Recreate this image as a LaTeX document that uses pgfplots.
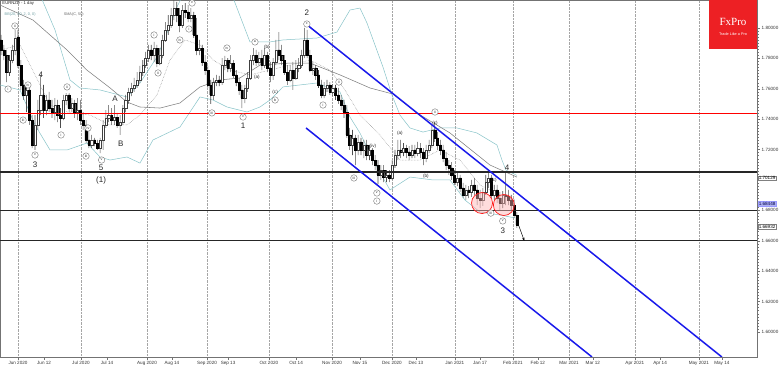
\documentclass[border=0pt]{standalone}
\usepackage{fontspec}
\setmainfont{Liberation Sans}
\newfontfamily\seriffont{Liberation Serif}
\usepackage{pgfplots}
\pgfplotsset{compat=1.18}
\usepackage{pgfplotstable}
\usetikzlibrary{arrows.meta}
\definecolor{bbteal}{RGB}{135,195,200}
\definecolor{fxred}{RGB}{237,32,36}
\definecolor{chanblue}{RGB}{25,25,235}

\pgfplotstableread{
d o h l c
-6 1.7921 1.7954 1.7822 1.7855
-5 1.7855 1.7888 1.7789 1.7822
-4 1.7822 1.7855 1.7644 1.7710
-3 1.7710 1.7822 1.7684 1.7789
-2 1.7789 1.7888 1.7769 1.7855
-1 1.7855 1.7987 1.7822 1.7934
0 1.7941 1.7987 1.7737 1.7756
1 1.7756 1.7789 1.7592 1.7625
2 1.7625 1.7658 1.7526 1.7559
3 1.7559 1.7625 1.7447 1.7592
4 1.7592 1.7605 1.7362 1.7394
5 1.7394 1.7427 1.7210 1.7230
6 1.7230 1.7427 1.7197 1.7362
7 1.7362 1.7526 1.7329 1.7460
8 1.7460 1.7691 1.7427 1.7559
9 1.7559 1.7625 1.7408 1.7460
10 1.7460 1.7559 1.7427 1.7526
11 1.7526 1.7579 1.7447 1.7473
12 1.7473 1.7526 1.7408 1.7447
13 1.7447 1.7539 1.7394 1.7493
14 1.7493 1.7526 1.7381 1.7427
15 1.7427 1.7473 1.7342 1.7408
16 1.7408 1.7559 1.7394 1.7526
17 1.7526 1.7572 1.7493 1.7559
18 1.7559 1.7572 1.7447 1.7473
19 1.7473 1.7539 1.7447 1.7506
20 1.7506 1.7526 1.7408 1.7447
21 1.7447 1.7539 1.7394 1.7460
22 1.7460 1.7526 1.7362 1.7394
23 1.7394 1.7447 1.7329 1.7362
24 1.7362 1.7394 1.7243 1.7263
25 1.7263 1.7329 1.7210 1.7230
26 1.7230 1.7296 1.7210 1.7263
27 1.7263 1.7276 1.7223 1.7243
28 1.7243 1.7263 1.7197 1.7210
29 1.7210 1.7276 1.7177 1.7263
30 1.7263 1.7394 1.7197 1.7362
31 1.7362 1.7460 1.7342 1.7408
32 1.7408 1.7493 1.7381 1.7427
33 1.7427 1.7473 1.7362 1.7394
34 1.7394 1.7493 1.7362 1.7414
35 1.7414 1.7441 1.7342 1.7362
36 1.7362 1.7427 1.7296 1.7381
37 1.7381 1.7493 1.7362 1.7473
38 1.7473 1.7559 1.7447 1.7526
39 1.7526 1.7605 1.7500 1.7579
40 1.7579 1.7638 1.7552 1.7605
41 1.7605 1.7671 1.7579 1.7625
42 1.7625 1.7710 1.7605 1.7658
43 1.7658 1.7750 1.7638 1.7710
44 1.7710 1.7789 1.7684 1.7756
45 1.7756 1.7842 1.7737 1.7802
46 1.7802 1.7888 1.7776 1.7855
47 1.7855 1.7888 1.7789 1.7822
48 1.7822 1.7908 1.7776 1.7868
49 1.7868 1.7888 1.7743 1.7769
50 1.7769 1.7868 1.7756 1.7822
51 1.7822 1.7954 1.7802 1.7921
52 1.7921 1.8039 1.7908 1.7987
53 1.7987 1.8085 1.7954 1.8020
54 1.8020 1.8131 1.8000 1.8085
55 1.8085 1.8184 1.8052 1.8131
56 1.8131 1.8171 1.8039 1.8085
57 1.8085 1.8131 1.7973 1.8020
58 1.8020 1.8151 1.8000 1.8118
59 1.8118 1.8164 1.8066 1.8105
60 1.8105 1.8151 1.8039 1.8066
61 1.8066 1.8131 1.8039 1.8085
62 1.8085 1.8105 1.7934 1.7954
63 1.7954 1.8066 1.7822 1.7855
64 1.7855 1.7921 1.7822 1.7868
65 1.7868 1.7888 1.7750 1.7776
66 1.7776 1.7822 1.7691 1.7723
67 1.7723 1.7750 1.7605 1.7625
68 1.7625 1.7658 1.7500 1.7559
69 1.7559 1.7671 1.7526 1.7644
70 1.7644 1.7691 1.7618 1.7658
71 1.7658 1.7684 1.7618 1.7644
72 1.7644 1.7802 1.7625 1.7756
73 1.7756 1.7816 1.7723 1.7789
74 1.7789 1.7802 1.7710 1.7737
75 1.7737 1.7822 1.7710 1.7769
76 1.7769 1.7789 1.7671 1.7691
77 1.7691 1.7723 1.7618 1.7644
78 1.7644 1.7671 1.7559 1.7592
79 1.7592 1.7625 1.7473 1.7539
80 1.7539 1.7625 1.7506 1.7605
81 1.7605 1.7710 1.7579 1.7671
82 1.7671 1.7822 1.7658 1.7789
83 1.7789 1.7868 1.7756 1.7822
84 1.7822 1.7855 1.7750 1.7776
85 1.7776 1.7842 1.7756 1.7802
86 1.7802 1.7855 1.7723 1.7756
87 1.7756 1.7868 1.7737 1.7822
88 1.7822 1.7842 1.7710 1.7737
89 1.7737 1.7776 1.7644 1.7691
90 1.7691 1.7802 1.7658 1.7776
91 1.7776 1.7921 1.7756 1.7855
92 1.7855 1.7973 1.7789 1.7822
93 1.7822 1.7888 1.7756 1.7789
94 1.7789 1.7822 1.7691 1.7710
95 1.7710 1.7756 1.7625 1.7658
96 1.7658 1.7756 1.7644 1.7723
97 1.7723 1.7776 1.7592 1.7671
98 1.7671 1.7789 1.7658 1.7737
99 1.7737 1.7802 1.7710 1.7756
100 1.7756 1.7855 1.7737 1.7822
101 1.7822 1.8000 1.7802 1.7921
102 1.7921 1.7987 1.7802 1.7822
103 1.7822 1.7855 1.7710 1.7723
104 1.7723 1.7776 1.7691 1.7737
105 1.7737 1.7756 1.7658 1.7691
106 1.7691 1.7723 1.7605 1.7625
107 1.7625 1.7658 1.7539 1.7559
108 1.7559 1.7644 1.7539 1.7605
109 1.7605 1.7658 1.7579 1.7625
110 1.7625 1.7644 1.7559 1.7579
111 1.7579 1.7631 1.7552 1.7605
112 1.7605 1.7625 1.7526 1.7559
113 1.7559 1.7605 1.7500 1.7526
114 1.7526 1.7559 1.7460 1.7493
115 1.7493 1.7526 1.7408 1.7447
116 1.7447 1.7493 1.7276 1.7296
117 1.7296 1.7342 1.7197 1.7230
118 1.7230 1.7329 1.7164 1.7276
119 1.7276 1.7296 1.7098 1.7197
120 1.7197 1.7296 1.7164 1.7250
121 1.7250 1.7276 1.7164 1.7197
122 1.7197 1.7263 1.7144 1.7230
123 1.7230 1.7263 1.7131 1.7164
124 1.7164 1.7230 1.7131 1.7197
125 1.7197 1.7210 1.7098 1.7131
126 1.7131 1.7164 1.7065 1.7098
127 1.7098 1.7131 1.6973 1.7033
128 1.7033 1.7098 1.7000 1.7065
129 1.7065 1.7098 1.6986 1.7019
130 1.7019 1.7065 1.6986 1.7033
131 1.7033 1.7065 1.6986 1.7013
132 1.7013 1.7131 1.7000 1.7098
133 1.7098 1.7197 1.7079 1.7164
134 1.7164 1.7263 1.7131 1.7197
135 1.7197 1.7263 1.7144 1.7184
136 1.7184 1.7243 1.7157 1.7210
137 1.7210 1.7230 1.7144 1.7184
138 1.7184 1.7223 1.7131 1.7164
139 1.7164 1.7230 1.7144 1.7197
140 1.7197 1.7230 1.7144 1.7177
141 1.7177 1.7250 1.7157 1.7210
142 1.7210 1.7243 1.7144 1.7184
143 1.7184 1.7210 1.7098 1.7144
144 1.7144 1.7230 1.7118 1.7197
145 1.7197 1.7263 1.7177 1.7230
146 1.7230 1.7362 1.7210 1.7329
147 1.7329 1.7381 1.7250 1.7276
148 1.7276 1.7315 1.7197 1.7230
149 1.7230 1.7263 1.7164 1.7197
150 1.7197 1.7230 1.7118 1.7144
151 1.7144 1.7184 1.7065 1.7098
152 1.7098 1.7131 1.7033 1.7079
153 1.7079 1.7118 1.7000 1.7033
154 1.7033 1.7065 1.6967 1.6986
155 1.6986 1.7052 1.6960 1.7013
156 1.7013 1.7033 1.6921 1.6947
157 1.6947 1.6980 1.6881 1.6901
158 1.6901 1.6967 1.6868 1.6934
159 1.6934 1.6960 1.6881 1.6921
160 1.6921 1.7000 1.6888 1.6967
161 1.6967 1.7013 1.6901 1.6934
162 1.6934 1.6967 1.6835 1.6881
163 1.6881 1.6934 1.6815 1.6868
164 1.6868 1.6947 1.6829 1.6921
165 1.6921 1.7033 1.6901 1.6986
166 1.6986 1.7052 1.6947 1.7013
167 1.7013 1.7033 1.6881 1.6901
168 1.6901 1.6967 1.6868 1.6934
169 1.6934 1.6967 1.6848 1.6881
170 1.6881 1.6921 1.6802 1.6848
171 1.6848 1.6927 1.6815 1.6901
172 1.6901 1.7052 1.6835 1.6894
173 1.6894 1.6934 1.6835 1.6868
174 1.6868 1.6901 1.6802 1.6835
175 1.6835 1.6868 1.6750 1.6769
176 1.6769 1.6789 1.6684 1.6704
}\candles

\pgfplotsset{
  frame/.style={at={(0,0)}, anchor=south west, scale only axis,
    width=757pt, height=357pt,
    xmin=-6.35, xmax=260.7, ymin=1.5835, ymax=1.8184, clip=true},
  overlay/.style={frame, hide axis},
}

\begin{document}
\begin{tikzpicture}[
  wl/.style={circle, draw=black!55, fill=white, inner sep=0pt, minimum size=6.5pt,
    font=\fontsize{3.6}{4}\selectfont, text=black!80},
  pl/.style={font=\fontsize{4.6}{5}\selectfont, text=black!85, inner sep=0pt},
  big/.style={font=\fontsize{8}{9}\selectfont, text=black!85, inner sep=0pt}]
\useasboundingbox (0,-9pt) rectangle (782pt,357pt);
% ---------- axis A: frame, ticks, grid, indicators
\begin{axis}[frame,
  axis line style={black!55, line width=0.4pt},
  tick align=outside,
  major tick length=3pt, minor tick length=1.5pt,
  tick style={black!55, line width=0.3pt},
  xtick pos=bottom,
  xtick={0,9.2,22.2,31.4,45.5,54.3,66.7,74.1,88.5,98.1,110.8,120.6,131.9,140.4,154.1,163,174.6,183.4,194.4,202.8,217.6,226.5,240.2,248.3},
  xticklabels={Jun 2020,Jun 12,Jul 2020,Jul 14,Aug 2020,Aug 14,Sep 2020,Sep 13,Oct 2020,Oct 14,Nov 2020,Nov 15,Dec 2020,Dec 13,Jan 2021,Jan 17,Feb 2021,Feb 12,Mar 2021,Mar 12,Apr 2021,Apr 14,May 2021,May 14},
  x tick label style={font=\fontsize{4.6}{5}\selectfont, text=black!80, inner sep=0.8pt},
  extra x ticks={0,22.2,45.5,66.7,88.5,110.8,131.9,154.1,174.6,194.4,217.6,240.2},
  extra x tick labels={},
  extra x tick style={grid=major, major grid style={densely dotted, black!35, line width=0.4pt}},
  ytick pos=right, yticklabel pos=right,
  ytick={1.60,1.62,1.64,1.66,1.68,1.70,1.72,1.74,1.76,1.78,1.80},
  yticklabels={1.60000,1.62000,1.64000,1.66000,1.68000,,1.72000,1.74000,1.76000,1.78000,1.80000},
  minor y tick num=9,
  y tick label style={font=\fontsize{4.6}{5}\selectfont, text=black!80, inner sep=1.5pt},
]
\addplot[bbteal, line width=0.5pt] coordinates {(7.05,1.8250) (13.05,1.7987) (18.34,1.7658) (21.87,1.7605) (28.92,1.7592) (38.45,1.7546) (43.03,1.7638) (49.03,1.7809) (52.56,1.7967) (56.08,1.8138) (58.2,1.8217)};
\addplot[bbteal, line width=0.5pt] coordinates {(75.49,1.8217) (81.83,1.7908) (88.89,1.7908) (93.47,1.7921) (105.5,1.7934) (112.52,1.7973) (117.11,1.8118) (120.63,1.8131) (123.1,1.8033) (128.75,1.7743) (131.92,1.7559) (134.74,1.7427) (138.27,1.7342) (142.86,1.7315) (148.85,1.7342) (154.85,1.7342) (161.9,1.7309) (168.96,1.7230) (170.72,1.7131) (172.13,1.7065) (176,1.7030)};
\addplot[bbteal, line width=0.5pt] coordinates {(-6.35,1.7625) (0.71,1.7592) (6.0,1.7362) (11.29,1.7197) (17.28,1.7197) (24.34,1.7243) (28.92,1.7151) (32.45,1.7131) (38.45,1.7151) (43.03,1.7111) (47.62,1.7263) (57.14,1.7348) (64.2,1.7546) (68.78,1.7526) (73.72,1.7480) (80.78,1.7447) (85.36,1.7480) (88.89,1.7526) (93.47,1.7612) (105.5,1.7638) (113.58,1.7579) (117.11,1.7414) (120.63,1.7309) (126.63,1.7085) (131.22,1.6934) (138.27,1.7019) (146.38,1.7000) (152.38,1.7000) (157.67,1.6868) (162.96,1.6789) (170.02,1.6769) (175.31,1.6750)};
\addplot[black!45, densely dotted, line width=0.5pt] coordinates {(-6.35,1.7855) (0.71,1.7888) (6.0,1.7691) (11.29,1.7493) (18.34,1.7441) (25.4,1.7427) (32.45,1.7362) (38.45,1.7362) (43.03,1.7427) (49.03,1.7559) (53.62,1.7789) (58.91,1.7921) (64.2,1.7888) (68.78,1.7789) (74.78,1.7723) (81.83,1.7691) (88.89,1.7723) (95.94,1.7756) (103,1.7789) (110.05,1.7723) (115.34,1.7592) (120.63,1.7427) (127.69,1.7296) (134.74,1.7131) (141.8,1.7131) (148.85,1.7197) (155.91,1.7131) (162.96,1.6967) (170.02,1.6901) (175.31,1.6868)};
\addplot[black!50, line width=0.55pt] coordinates {(-6.35,1.8151) (5.3,1.8052) (17.3,1.7855) (24.3,1.7723) (32.5,1.7605) (38.4,1.7513) (43,1.7480) (50.1,1.7473) (57.1,1.7506) (64.2,1.7612) (71.3,1.7658) (78.3,1.7671) (85.4,1.7756) (95.9,1.7769) (103,1.7769) (113.6,1.7691) (124.2,1.7605) (132.3,1.7565) (140.7,1.7441) (152.4,1.7309) (166.5,1.7098) (176,1.7019)};
\end{axis}
% ---------- axis B: wicks (stacked bars from low to high)
\begin{axis}[overlay, ybar stacked, bar width=0.55pt]
\addplot[draw=none, fill=none] table[x=d, y=l] {\candles};
\addplot[draw=none, fill=black!70] table[x=d, y expr={\thisrow{h}-\thisrow{l}}] {\candles};
\end{axis}
% ---------- axis C: bodies (stacked bars from min(o,c))
\begin{axis}[overlay, ybar stacked, bar width=2.1pt]
\addplot[draw=none, fill=none] table[x=d, y expr={min(\thisrow{o},\thisrow{c})}] {\candles};
\addplot[draw=black!75, line width=0.35pt, fill=white] table[x=d, y expr={max(\thisrow{c}-\thisrow{o},0)}] {\candles};
\addplot[draw=black, line width=0.35pt, fill=black] table[x=d, y expr={max(\thisrow{o}-\thisrow{c},0)}] {\candles};
\end{axis}
% ---------- axis D: levels, channel, annotations
\begin{axis}[overlay]
\addplot[red, line width=1.1pt] coordinates {(-6.35,1.7440) (260.7,1.7440)};
\addplot[black!85, line width=1.3pt] coordinates {(-6.35,1.7052) (260.7,1.7052)};
\addplot[black!85, line width=1.3pt] coordinates {(-6.35,1.6800) (260.7,1.6800)};
\addplot[black!85, line width=1.3pt] coordinates {(-6.35,1.6600) (260.7,1.6600)};
\addplot[chanblue, line width=1.5pt] coordinates {(101.6,1.8026) (248.3,1.5835)};
\addplot[chanblue, line width=1.5pt] coordinates {(101.6,1.7342) (202.5,1.5835)};

\draw[red!90, line width=0.7pt, fill=red!30, fill opacity=0.45] (axis cs:163.7,1.6848) circle[radius=10.5pt];
\draw[red!90, line width=0.7pt, fill=red!30, fill opacity=0.45] (axis cs:171.4,1.6835) circle[radius=10.5pt];
\draw[black, line width=0.5pt, -{Stealth[length=3pt,width=2.5pt]}] (axis cs:176.7,1.6697) -- (axis cs:178.6,1.6600);

\node[wl] at (axis cs:-3.5,1.7598) {i};
\node[wl] at (axis cs:-1.1,1.8013) {ii};
\node[wl] at (axis cs:1.8,1.7394) {iii};
\node[wl] at (axis cs:3.5,1.7625) {iv};
\node[wl] at (axis cs:6,1.7164) {v};
\node[wl] at (axis cs:15.2,1.7296) {i};
\node[wl] at (axis cs:17.3,1.7612) {ii};
\node[wl] at (axis cs:24,1.7157) {iii};
\node[wl] at (axis cs:24.7,1.7342) {iv};
\node[wl] at (axis cs:29.5,1.7131) {v};
\node[wl] at (axis cs:48,1.7954) {i};
\node[wl] at (axis cs:49.4,1.7704) {ii};
\node[wl] at (axis cs:57.1,1.7921) {iv};
\node[wl] at (axis cs:60.3,1.7993) {i};
\node[wl] at (axis cs:61.4,1.8164) {v};
\node[wl] at (axis cs:68.4,1.7441) {iii};
\node[wl] at (axis cs:73.7,1.7868) {iv};
\node[wl] at (axis cs:79.4,1.7414) {v};
\node[wl] at (axis cs:83.6,1.7908) {a};
\node[wl] at (axis cs:90.7,1.7526) {b};
\node[wl] at (axis cs:101.9,1.8026) {c};
\node[wl] at (axis cs:107.6,1.7493) {i};
\node[wl] at (axis cs:113.2,1.7644) {ii};
\node[wl] at (axis cs:118.5,1.7013) {iii};
\node[wl] at (axis cs:126.6,1.6914) {v};
\node[wl] at (axis cs:126.6,1.6861) {i};
\node[wl] at (axis cs:147.1,1.7447) {ii};
\node[wl] at (axis cs:166.8,1.6782) {iii};
\node[wl] at (axis cs:171,1.6730) {v};
\node[pl] at (axis cs:84.3,1.7677) {(a)};
\node[pl] at (axis cs:87.8,1.7875) {(b)};
\node[pl] at (axis cs:90.7,1.7579) {(c)};
\node[pl] at (axis cs:125.2,1.7223) {(iv)};
\node[pl] at (axis cs:134.7,1.7309) {(a)};
\node[pl] at (axis cs:143.9,1.7026) {(b)};
\node[pl] at (axis cs:147.1,1.7375) {(c)};
\node[pl] at (axis cs:167.9,1.7000) {(c)};
\node[big] at (axis cs:6,1.7098) {3};
\node[big] at (axis cs:8.1,1.7691) {4};
\node[big] at (axis cs:29.3,1.7079) {5};
\node[big] at (axis cs:29.3,1.7000) {(1)};
\node[big] at (axis cs:34.2,1.7533) {A};
\node[big] at (axis cs:36.3,1.7236) {B};
\node[big] at (axis cs:79.4,1.7355) {1};
\node[big] at (axis cs:101.9,1.8098) {2};
\node[big] at (axis cs:171,1.6664) {3};
\node[big] at (axis cs:172.5,1.7079) {4};

\node[anchor=north west, inner sep=0pt, font=\fontsize{4.2}{5}\selectfont, text=black!85] at (rel axis cs:0.003,0.997) {EURNZD - 1 day};
\node[anchor=north west, inner sep=0pt, font=\fontsize{3.8}{4.5}\selectfont, text=bbteal!80!black] at (rel axis cs:0.006,0.965) {BB(20, 20, 2, 0, 0)};
\node[anchor=north west, inner sep=0pt, font=\fontsize{3.8}{4.5}\selectfont, text=black!60] at (rel axis cs:0.084,0.965) {SMA(C, 50)};
\fill[fxred] (rel axis cs:0.9366,1) rectangle (rel axis cs:1,0.8627);
\node[text=white, font=\seriffont\fontsize{11}{12}\selectfont, inner sep=0pt] at (rel axis cs:0.9683,0.938) {FxPro};
\node[text=white, font=\fontsize{3.8}{4.5}\selectfont, inner sep=0pt] at (rel axis cs:0.9683,0.9055) {Trade Like a Pro};
\end{axis}
\node[anchor=west, draw=black!50, fill=white, inner sep=0.6pt, font=\fontsize{4.6}{5}\selectfont, line width=0.3pt] at (758pt,179pt) {1.70129};
\node[anchor=west, draw=blue!40, fill={rgb,255:red,175;green,178;blue,240}, text=blue!30!black, inner sep=0.6pt, font=\fontsize{4.6}{5}\selectfont, line width=0.3pt] at (758pt,153.5pt) {1.68448};
\node[anchor=west, draw=black!50, fill=white, inner sep=0.6pt, font=\fontsize{4.6}{5}\selectfont, line width=0.3pt] at (758pt,130.4pt) {1.66932};
\end{tikzpicture}
\end{document}
